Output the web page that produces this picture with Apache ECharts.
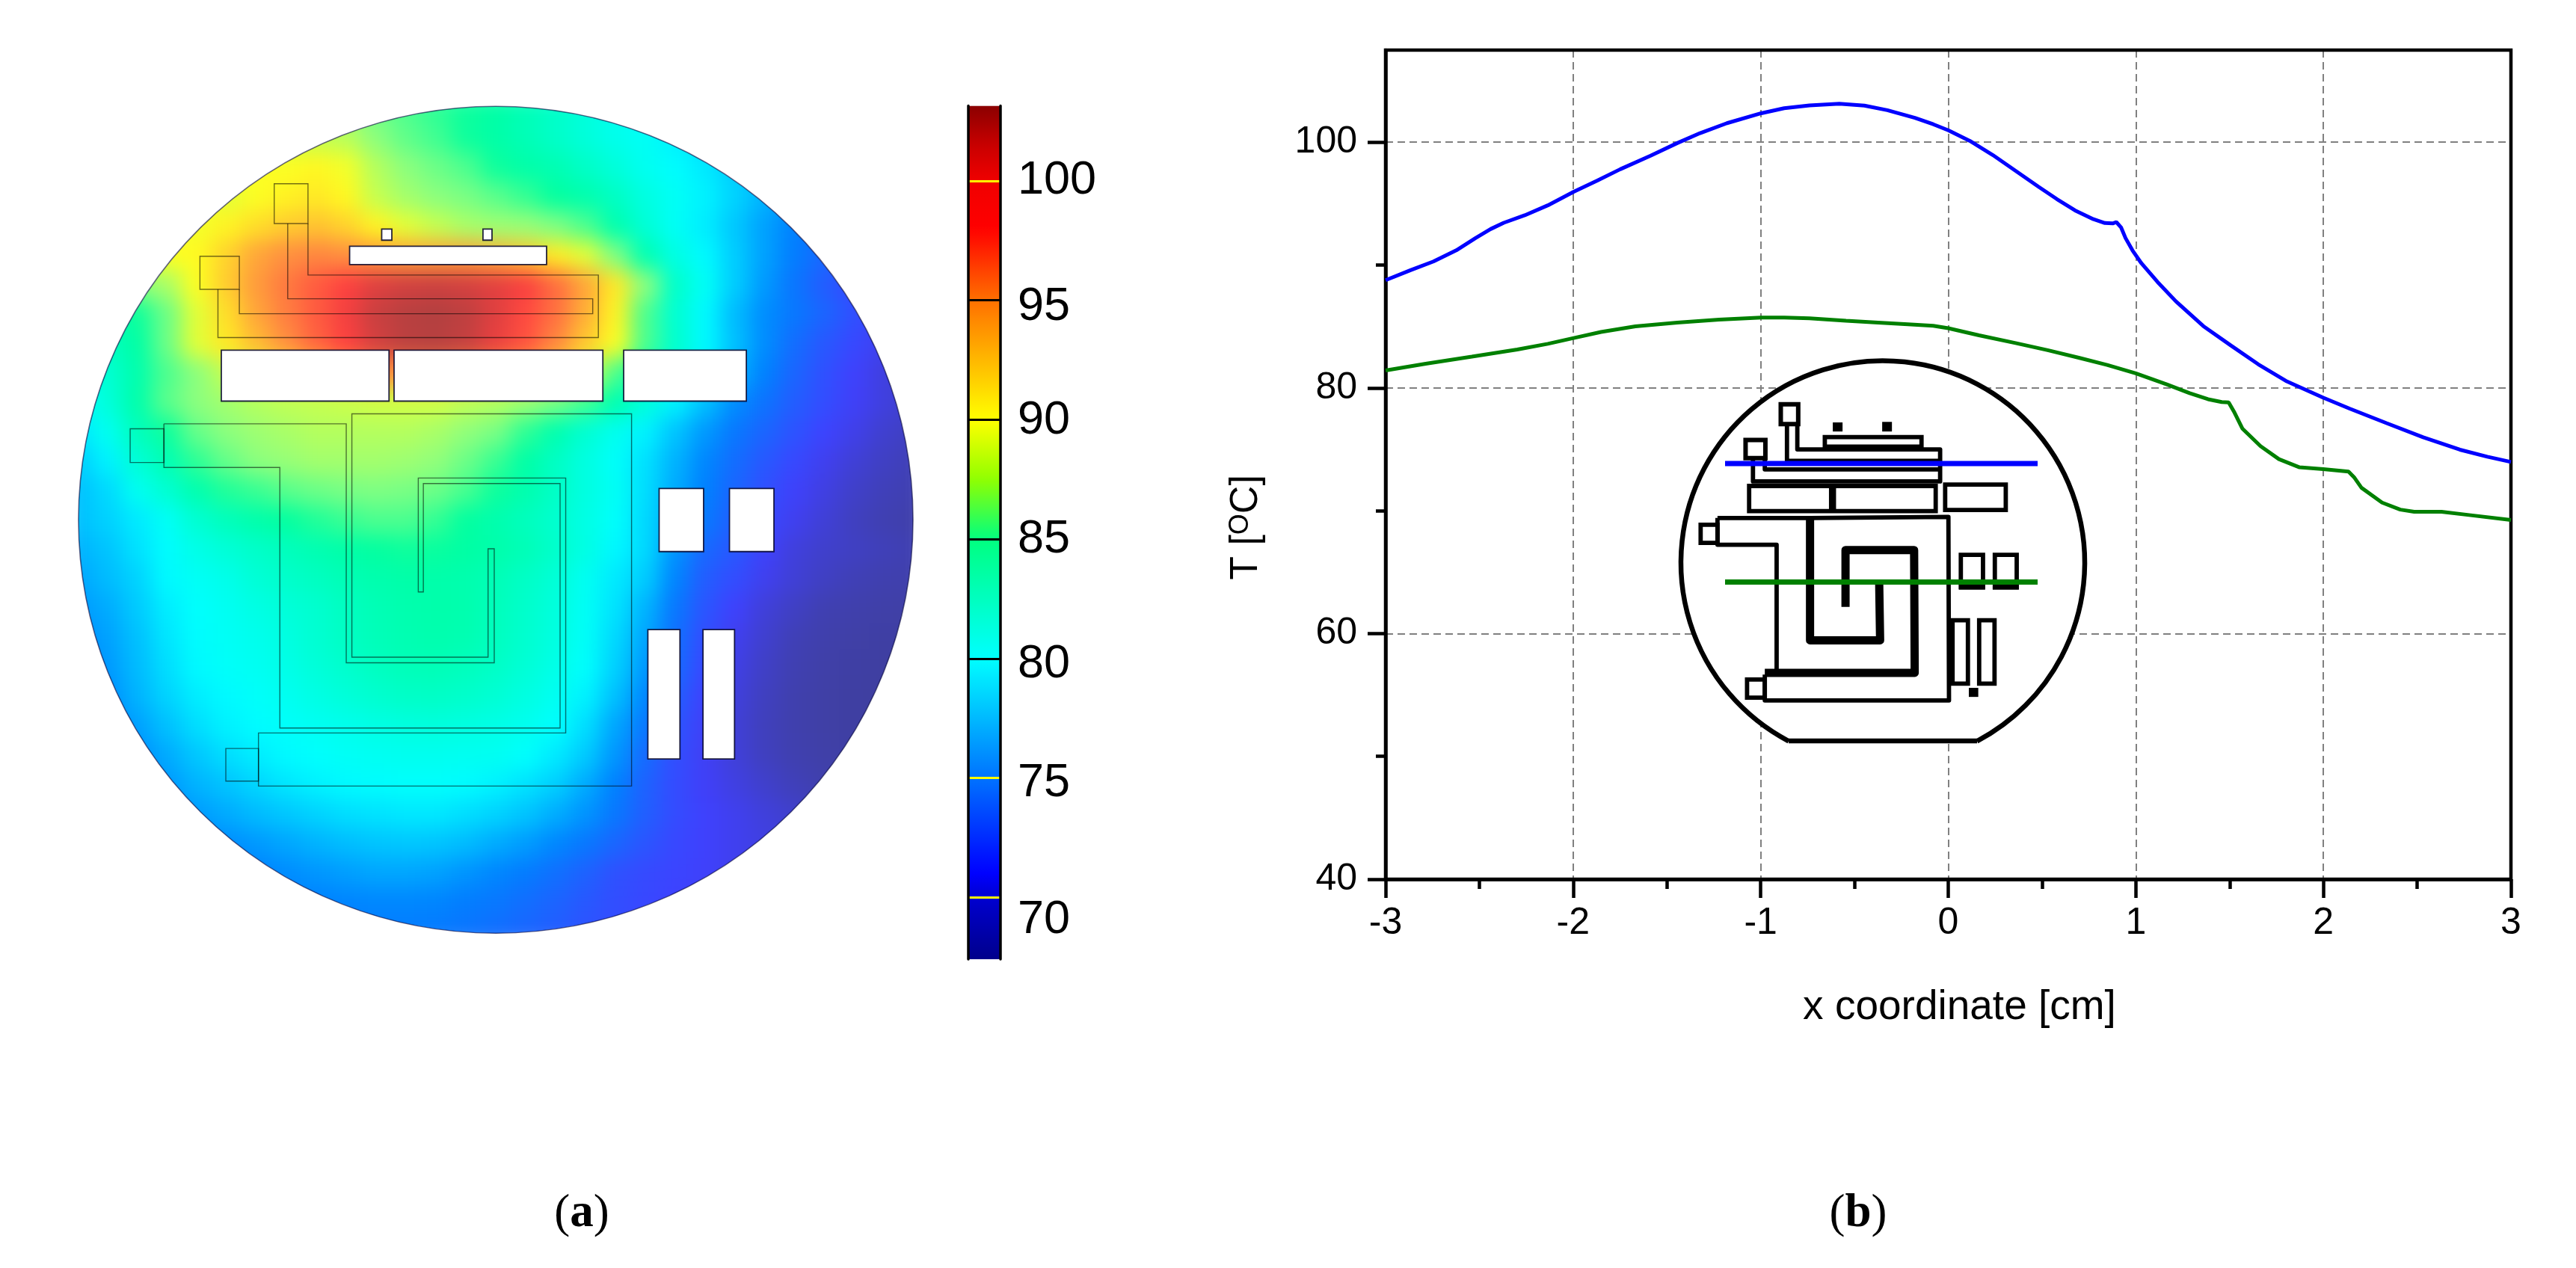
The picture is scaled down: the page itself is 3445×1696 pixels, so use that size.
<!DOCTYPE html>
<html><head><meta charset="utf-8">
<style>html,body{margin:0;padding:0;background:#fff}#c{width:3445px;height:1696px}</style>
<script src="https://cdn.jsdelivr.net/npm/echarts@6/dist/echarts.min.js"></script>
</head><body><div id="c"></div>
<script>
// Panel (b): temperature along the two cut lines
const xBlue=[-3,-2.867,-2.745,-2.623,-2.52,-2.44,-2.37,-2.258,-2.135,-1.997,-1.871,-1.749,-1.587,-1.445,-1.323,-1.18,-0.997,-0.875,-0.74,-0.581,-0.447,-0.325,-0.178,-0.08,0,0.115,0.237,0.359,0.481,0.579,0.676,0.774,0.835,0.877,0.896,0.921,0.945,0.982,1.03,1.116,1.214,1.36,1.507,1.653,1.8,2,2.142,2.337,2.532,2.728,2.874,3];
const tBlue=[88.77,89.58,90.29,91.2,92.2,92.93,93.44,94.05,94.86,95.97,96.88,97.8,98.9,99.93,100.74,101.55,102.36,102.77,103,103.13,102.98,102.61,101.98,101.46,100.97,100.11,98.96,97.67,96.38,95.37,94.45,93.73,93.42,93.39,93.5,93.07,92.2,91.2,90.14,88.62,87.04,85.03,83.45,81.92,80.57,79.2,78.3,77.13,75.98,74.97,74.4,73.97];
const xGreen=[-3,-2.786,-2.54,-2.298,-2.135,-1.997,-1.851,-1.668,-1.445,-1.222,-0.997,-0.875,-0.74,-0.545,-0.374,-0.215,-0.08,0,0.164,0.359,0.53,0.7,0.847,1,1.165,1.287,1.385,1.458,1.495,1.526,1.568,1.665,1.763,1.873,2,2.134,2.166,2.203,2.313,2.41,2.484,2.63,2.777,3];
const tGreen=[81.42,81.97,82.54,83.12,83.59,84.06,84.55,85.01,85.32,85.56,85.72,85.72,85.66,85.46,85.32,85.18,85.05,84.86,84.28,83.65,83.07,82.44,81.87,81.18,80.29,79.57,79.08,78.85,78.82,77.99,76.69,75.26,74.2,73.53,73.39,73.19,72.68,71.87,70.66,70.09,69.91,69.91,69.65,69.25];
const yTicks=[40,60,80,100];
const yMinorTicks=[50,70,90];
const field=[
[88,88,88,88,88,88,88,88,88,88,87.5,87,86.5,86,85.5,84.5,83.5,82.5,81.5,81,80,79,78,77,76,75,74,73,72],
[89,89,89,89,89,89,89,89,89,88.8,88,87.3,86.8,86,85.4,84.5,83.5,82.5,81.6,81,80,79,78,77,76,75,74,73,72],
[90,90,90,90,90,90,90,90,90.3,89.8,88.7,88,87.5,87,86,85.3,84.7,83.6,82.5,81.3,80.5,79.7,78.5,77.5,76.3,75,74,73,72],
[90,90,90,90,90,89.5,90,90.6,91,90.3,89,88.4,88,87.7,87.2,86.6,85.8,85,83.8,82.2,81,80,78.8,77.5,76.2,75,74,73,72],
[90,90,90,90,89.8,90.5,91.5,92.3,92.7,92,90.5,89.5,89,88.5,88.3,88.2,87.8,87,85,82.8,81,79.8,78.3,76.8,75.5,74.5,73.5,72.5,71.5],
[90,90,90,90,90.2,92,94,95,95.5,95,94.5,94,94,94,93.5,92.5,90.8,89.5,87.8,84.8,82,80.3,78.5,76.8,75.3,74,73,72,71],
[88,88,88,88.5,90,92.3,94.5,96.3,98,99.5,101,101.6,101.8,101.5,100.8,99.8,97,94,91,88,83.5,81,78.5,76.5,74.8,73.3,72,71,70.5],
[84,85,86,87.5,89.5,91.5,94,96,98,100,102,102.8,103,102.5,101,99,96.8,93.6,90.5,87,83,80.3,77.8,76,75,73.8,72.5,71.5,71],
[82.5,84,85.5,87.5,89.5,91,93,95,97.5,99.5,101.5,102.6,102.8,102.2,100.5,98.5,95.5,92.5,90,87,83.3,80.3,78,76,74.3,73,72,71,70.5],
[81.5,83,85,87,88,89,89.5,90.5,92,94,95,95,95,94.5,94,93,91.5,89.5,87,85,82.5,80,77.5,75.5,73.8,72.5,71.5,70.5,70],
[80.5,82.5,85.2,87.2,88,88.4,88.7,88.9,89,89.1,89.2,89.2,89.2,88.9,88.7,88.3,87.7,86.8,85,82.5,80,78,76,74.7,73.3,72.3,71.3,70.5,69.8],
[79.5,81.3,84.2,86,87.4,88,88.3,88.5,88.7,88.7,88.7,88.7,88.5,88.1,87.7,86.5,85,83,81.4,80,78.2,76.5,75,73.8,72.7,71.7,70.8,70,69.5],
[78.5,80,82.7,84.7,86.5,87.4,88,88.2,88.4,88.4,88.4,88.3,88.1,87.5,86.7,85.5,83.8,82.2,80.8,79.3,77.5,75.8,74.3,73,72,71,70.2,69.6,69.2],
[78,79,81.2,83,85,86.3,86.7,87.2,87.5,87.7,87.8,87.7,87.5,86.9,86,85,83.7,82.2,81,79.2,77.2,75.5,73.8,72.5,71.4,70.6,69.8,69.3,69],
[78,78.7,79.7,81,83,84.3,85.2,85.8,86.3,86.7,87,87,86.6,85.8,85,84.2,83.2,82,80.7,79,77,75,73.5,72,71,70.2,69.5,69,68.6],
[77.5,78.2,79.3,80.5,81.8,82.7,83.5,84.2,84.8,85.4,85.8,86,85.9,85.6,85.2,84.5,83.4,82,80.2,79,76.3,74,73,71.5,70.4,69.9,69.6,69.3,69],
[77,77.8,78.8,80.3,81,81.7,82.8,83.4,84,84.6,85,85.3,85.2,85,84.5,83.7,82.7,81.2,79.7,78.5,75.7,73.3,72.3,71,70.2,69.6,69.2,68.9,68.7],
[76.5,77.2,78.4,79.8,80.6,81.2,82,82.6,83.2,84,84.6,85,85.2,85,84.3,83.4,82.4,81,79.4,77.5,75,72.8,71.5,70.3,69.6,69,68.7,68.4,68.2],
[76,76.8,78,79.5,80.5,81,81.5,82.2,83,83.8,84.4,84.8,85,84.8,84.1,83.2,82.2,80.9,79,77,74.5,72.3,71,70,69.2,68.7,68.3,68,67.9],
[75.5,76.5,77.8,79.2,80.3,80.8,81.2,81.8,82.6,83.3,84,84.4,84.5,84.2,83.6,82.8,81.8,80.6,78.7,76.5,74.2,72,70.7,69.7,69,68.4,68,67.8,67.7],
[75,76,77.5,78.8,79.8,80.3,80.8,81.3,82,82.6,83.2,83.6,83.7,83.4,82.9,82.2,81.2,80,78,75.8,73.4,71.5,70.4,69.5,68.8,68.2,67.9,67.7,67.6],
[74.5,75.5,76.8,78,79.2,80,80.4,80.8,81.2,81.6,82,82.3,82.4,82.2,81.9,81.4,80.6,79.2,77,75,72.8,71.3,70.2,69.4,68.8,68.2,67.9,67.7,67.6],
[74,75,76,77.2,78.3,79.2,79.8,80.3,80.6,81,81.2,81.4,81.4,81.3,81.2,80.6,79.7,78.4,76.4,74.2,72.4,71.2,70.3,69.5,68.9,68.4,68.1,67.9,67.8],
[73.5,74.5,75.5,76.5,77.5,78.2,78.9,79.5,80,80.3,80.5,80.6,80.6,80.4,80,79.4,78.6,77.2,75.5,73.6,72.2,71.3,70.6,69.9,69.3,68.8,68.5,68.2,68],
[73,74,75,75.8,76.6,77.2,77.8,78.3,78.8,79.2,79.4,79.6,79.6,79.2,78.8,78.2,77.3,76.3,75,73.4,72.2,71.5,71,70.4,69.9,69.4,69,68.7,68.5],
[73,73.5,74,74.8,75.5,76,76.5,77,77.5,77.9,78.2,78.3,78.2,77.8,77.2,76.6,75.8,75,73.9,72.8,72,71.5,71,70.6,70.2,69.9,69.5,69.2,69],
[72.5,73,73.5,74,74.6,75,75.5,76,76.4,76.7,77,77,76.8,76.3,75.8,75.2,74.5,73.6,72.6,72.1,71.8,71.4,71,70.6,70.3,70,69.7,69.4,69.2],
[72,72.5,73,73.5,74,74.5,74.8,75.2,75.5,75.7,75.8,75.8,75.7,75.3,75,74.4,73.7,73,72.4,72,71.6,71.3,71,70.7,70.4,70.1,69.8,69.5,69.3],
[72,72.3,72.7,73.2,73.6,74,74.4,74.7,75,75.1,75.2,75.2,75.1,74.8,74.4,73.9,73.3,72.7,72.2,71.8,71.5,71.2,71,70.7,70.4,70.1,69.8,69.5,69.3]
];
const barMin=67.42, barMax=103.14;
const barTicks=[70,75,80,85,90,95,100];
const barLabelSpots=[69.05,74.78,79.75,84.97,89.97,94.71,100];

const FONT='"Liberation Sans",Arial,sans-serif';
const barStops=[[67.42,'#00008b'],[70,'#0000d0'],[71,'#0000ff'],[75.2,'#0078ff'],[80,'#00ffff'],[85,'#00ff80'],[87.5,'#90ff00'],[90,'#ffff00'],[95,'#ff7000'],[98,'#ff0000'],[100,'#f00000'],[101.5,'#c80000'],[103.14,'#8b0000']];
const mapStops=[[67.42,'#3f3f9c'],[69,'#4040b0'],[71.5,'#4040ff'],[75.5,'#0080ff'],[80.5,'#00ffff'],[85.8,'#00ffa0'],[88,'#8cff80'],[90,'#ffff20'],[95,'#ff9040'],[99.5,'#ff4040'],[103.14,'#b04040']];
function resample(stops,n){const out=[];for(let i=0;i<n;i++){const v=barMin+(barMax-barMin)*i/(n-1);let k=0;while(k<stops.length-2&&v>stops[k+1][0])k++;const a=stops[k],b=stops[k+1];out.push(echarts.color.lerp(Math.min(1,Math.max(0,(v-a[0])/(b[0]-a[0]))),[a[1],b[1]]));}return out;}

const cells=[];field.forEach((row,j)=>row.forEach((v,i)=>cells.push([i,j,v])));

// schematic helpers (crop px -> page px)
const wx=x=>80+x/1.3288, wy=y=>120+y/1.3517;
const ix=x=>2200+x/2.529, iy=y=>460+y/2.8;
const L=1; const TOP=5;
const els=[];
function add(o){o.zlevel=L;if(o.z==null)o.z=TOP;els.push(o);}
const OUT='rgba(0,0,0,0.55)';
function wRect(a,b,c,d,fill){add({type:'rect',shape:{x:wx(a),y:wy(b),width:wx(c)-wx(a),height:wy(d)-wy(b)},style:{fill:fill||'none',stroke:fill?'rgba(0,0,40,0.85)':OUT,lineWidth:fill?1.8:1.4}});}
function wPoly(pts){add({type:'polyline',shape:{points:pts.map(p=>[wx(p[0]),wy(p[1])])},style:{fill:'none',stroke:OUT,lineWidth:1.4}});}
// white mask outside wafer (slightly elliptical, as in the reference)
const cx=663,cy=695.2,R=558,sy=553/558;
add({type:'ring',z:-1,originX:cx,originY:cy,scaleY:sy,shape:{cx,cy,r0:R,r:890},style:{fill:'#fff'}});
add({type:'circle',z:1,originX:cx,originY:cy,scaleY:sy,shape:{cx,cy,r:R},style:{fill:'none',stroke:'rgba(0,0,60,0.6)',lineWidth:1.6}});
[[515,283,865,316],[572,252,590,272],[752,252,768,272],[287,471,585,563],[594,471,965,563],[1002,471,1220,563],[1065,721,1144,835],[1190,721,1269,835],[1045,976,1102,1210],[1143,976,1199,1210]].forEach(r=>wRect(r[0],r[1],r[2],r[3],'#fff'));
[[381,170,441,242],[249,301,319,361],[125,613,185,674],[295,1191,353,1250]].forEach(r=>wRect(r[0],r[1],r[2],r[3]));
wPoly([[405,242],[405,378],[947,378],[947,405],[319,405],[319,361]]);
wPoly([[281,361],[281,448],[957,448],[957,335],[441,335],[441,242]]);
wPoly([[185,604],[509,604],[509,1036],[772,1036],[772,830],[761,830],[761,1026],[519,1026],[519,586],[1016,586],[1016,1259],[353,1259],[353,1163],[899,1163],[899,702],[637,702],[637,908],[646,908],[646,712],[889,712],[889,1154],[391,1154],[391,683],[185,683],[185,604]]);

// inset
const icx=2518,icy=752.5,iR=270;
add({type:'arc',z:TOP,shape:{cx:icx,cy:icy,r:iR,startAngle:117.8*Math.PI/180,endAngle:(360+62.2)*Math.PI/180,clockwise:true},style:{fill:'#fff',stroke:'#000',lineWidth:6.5}});
add({type:'line',z:TOP,shape:{x1:icx-126,y1:991,x2:icx+126,y2:991},style:{stroke:'#000',lineWidth:6.5}});
add({type:'polygon',z:TOP-1,shape:{points:[[icx-126,991],[icx+126,991],[icx,icy]]},style:{fill:'#fff'}});
const IZ=6;
function iRect(a,b,c,d,w){add({type:'rect',z:IZ,shape:{x:ix(a),y:iy(b),width:ix(c)-ix(a),height:iy(d)-iy(b)},style:{fill:'none',stroke:'#000',lineWidth:w||5.8}});}
function iFill(a,b,c,d){add({type:'rect',z:IZ,shape:{x:ix(a),y:iy(b),width:ix(c)-ix(a),height:iy(d)-iy(b)},style:{fill:'#000'}});}
function iPoly(pts,w){add({type:'polyline',z:IZ,shape:{points:pts.map(p=>[ix(p[0]),iy(p[1])])},style:{fill:'none',stroke:'#000',lineWidth:w||5.8,lineJoin:'round'}});}
iRect(459,226,518,300,6);iRect(340,360,407,428,6);
iPoly([[480,300],[480,438],[1000,438]]);
iPoly([[515,300],[515,395],[998,395],[998,515],[365,515],[365,428]]);
iPoly([[405,428],[405,470],[1000,470]]);
iRect(608,349,935,385);
iFill(635,294,668,328);iFill(802,292,835,328);iFill(1095,1288,1127,1322);
iRect(352,532,983,626);iFill(622,532,646,626);iRect(1015,527,1220,622);
iRect(188,677,245,745);iRect(345,1257,405,1325);
iPoly([[245,652],[558,652],[1026,648],[1028,1335],[405,1335],[405,1238]]);
iPoly([[245,652],[245,752],[445,752],[445,1225]]);
iPoly([[558,652],[558,1110],[795,1110],[792,900]],11);
iPoly([[678,985],[678,772],[910,772],[912,1232],[405,1232]],11);
iRect(1068,790,1143,912);iRect(1183,790,1257,912);
iFill(1062,900,1150,920);iFill(1176,900,1264,920);
iRect(1040,1035,1092,1272);iRect(1130,1035,1182,1272);
add({type:'line',z:7,shape:{x1:2307,y1:620,x2:2725,y2:620},style:{stroke:'#0000ff',lineWidth:7}});
add({type:'line',z:7,shape:{x1:2307,y1:778.5,x2:2725,y2:778.5},style:{stroke:'#008000',lineWidth:7}});
// captions
[['a',778],['b',2485]].forEach(c=>add({type:'text',x:c[1],y:1624,style:{text:'({b|'+c[0]+'})',align:'center',verticalAlign:'middle',fontFamily:'"Liberation Serif",serif',fontSize:63,fill:'#000',rich:{b:{fontFamily:'"Liberation Serif",serif',fontSize:63,fontWeight:'bold',fill:'#000'}}}}));

const tickStyle={color:'#000',width:4.5};
const chart=echarts.init(document.getElementById('c'),null,{renderer:'canvas',width:3445,height:1696});
chart.setOption({
 animation:false,
 grid:[
  {left:83,top:124.7,width:1160,height:1141.5,show:false,zlevel:0},
  {left:1853,top:67,width:1505,height:1109,show:true,borderColor:'#000',borderWidth:4.5,backgroundColor:'transparent',zlevel:L,z:1},
  {left:1295,top:141.4,width:43,height:1141.6,show:false,zlevel:L}
 ],
 xAxis:[
  {type:'category',gridIndex:0,show:false,data:field[0].map((_,i)=>i),zlevel:0},
  {type:'value',gridIndex:1,min:-3,max:3,interval:1,zlevel:L,
   name:'x coordinate [cm]',nameLocation:'middle',nameGap:144,nameTextStyle:{fontFamily:FONT,fontSize:55,color:'#000',padding:[0,0,0,30]},
   axisLine:{show:true,onZero:false,lineStyle:{color:'#000',width:4.5}},
   axisTick:{show:true,length:25,lineStyle:tickStyle},
   minorTick:{show:true,splitNumber:2,length:13,lineStyle:tickStyle},
   axisLabel:{fontFamily:FONT,fontSize:50,color:'#000',margin:34},
   splitLine:{show:true,lineStyle:{color:'#808080',width:2,type:[10,6]}}},
  {type:'value',gridIndex:2,show:false,min:0,max:1,zlevel:L}
 ],
 yAxis:[
  {type:'category',gridIndex:0,show:false,inverse:true,data:field.map((_,j)=>j),zlevel:0},
  {type:'value',gridIndex:1,min:40,max:107.5,interval:20,zlevel:L,
   name:'T [{s|O}C]',nameLocation:'middle',nameGap:160,nameRotate:90,
   nameTextStyle:{fontFamily:FONT,fontSize:52,color:'#000',padding:[0,168,0,0],rich:{s:{fontFamily:FONT,fontSize:36,color:'#000',verticalAlign:'top',lineHeight:52}}},
   axisLine:{show:true,onZero:false,lineStyle:{color:'#000',width:4.5}},
   axisTick:{show:true,length:24,lineStyle:tickStyle,customValues:yTicks},
   axisLabel:{fontFamily:FONT,fontSize:50,color:'#000',margin:38,padding:[8,0,0,0],customValues:yTicks},
   splitLine:{show:true,lineStyle:{color:'#808080',width:2,type:[10,6]}}},
  {type:'value',gridIndex:1,min:40,max:107.5,zlevel:L,position:'left',
   axisLine:{show:false,onZero:false},splitLine:{show:false},axisLabel:{show:false},
   axisTick:{show:true,length:13,lineStyle:tickStyle,customValues:yMinorTicks}},
  {type:'value',gridIndex:2,min:barMin,max:barMax,position:'left',zlevel:L,z:6,
   axisLine:{show:true,onZero:false,lineStyle:{color:'#000',width:3.5}},
   axisTick:{show:false,customValues:barTicks},
   axisLabel:{show:false},
   splitLine:{show:true,lineStyle:{width:3,color:['#ffff00','#ffff00','#000','#000','#000','#000','#ffff00']}}},
  {type:'value',gridIndex:2,min:barMin,max:barMax,position:'right',zlevel:L,z:6,
   axisLine:{show:true,onZero:false,lineStyle:{color:'#000',width:3.5}},
   axisTick:{show:false},splitLine:{show:false},
   axisLabel:{show:true,fontFamily:FONT,fontSize:63,color:'#000',margin:23,align:'left',padding:[8,0,0,0],customValues:barLabelSpots,
     formatter:v=>String(Math.round(v/5)*5)}}
 ],
 visualMap:[
  {type:'continuous',show:true,seriesIndex:[],dimension:2,min:barMin,max:barMax,calculable:false,showLabel:false,text:null,
   left:1295,top:141.4,itemWidth:43,itemHeight:1141.6,padding:0,zlevel:L,z:4,
   inRange:{color:resample(barStops,120)}},
  {type:'continuous',show:false,seriesIndex:[0],dimension:2,min:barMin,max:barMax,inRange:{color:resample(mapStops,120)}}
 ],
 series:[
  {type:'heatmap',name:'Temperature field',xAxisIndex:0,yAxisIndex:0,data:cells,zlevel:0,progressive:0,silent:true,itemStyle:{borderWidth:0}},
  {type:'line',name:'upper cut',xAxisIndex:1,yAxisIndex:1,data:xBlue.map((x,i)=>[x,tBlue[i]]),showSymbol:false,symbol:'none',lineStyle:{color:'#0000ff',width:5},zlevel:L,z:8,clip:true},
  {type:'line',name:'lower cut',xAxisIndex:1,yAxisIndex:1,data:xGreen.map((x,i)=>[x,tGreen[i]]),showSymbol:false,symbol:'none',lineStyle:{color:'#008000',width:5},zlevel:L,z:8,clip:true}
 ],
 graphic:{elements:els}
});
function blurField(){const cv=document.querySelector('#c canvas[data-zr-dom-id="zr_0"]')||document.querySelector('#c canvas');if(cv)cv.style.filter='blur(14px)';}
blurField();chart.on('finished',blurField);
</script></body></html>
